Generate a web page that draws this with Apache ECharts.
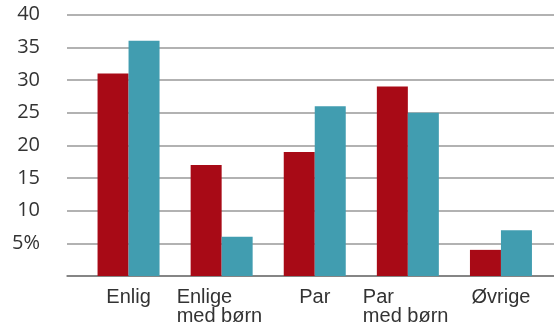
<!DOCTYPE html>
<html>
<head>
<meta charset="utf-8">
<script src="https://cdn.jsdelivr.net/npm/echarts@6/dist/echarts.min.js"></script>
<style>html,body{margin:0;padding:0;background:#fff}#c{width:554px;height:331px}</style>
</head>
<body>
<div id="c"></div>
<script>
var categories = ['Enlig', 'Enlige\nmed børn', 'Par', 'Par\nmed børn', 'Øvrige'];
var seriesRed = [31, 17, 19, 29, 4];
var seriesTeal = [36, 6, 26, 25, 7];
var yTicks = [0, 5, 10, 15, 20, 25, 30, 35, 40];

var chart = echarts.init(document.getElementById('c'), null, {renderer: 'canvas'});
var gridTop = 14.7, gridBottom = 331 - 276;
chart.setOption({
  animation: false,
  grid: [
    {left: 67, right: 0, top: gridTop, bottom: gridBottom},
    {left: 82, right: 6.5, top: gridTop, bottom: gridBottom}
  ],
  xAxis: [
    {gridIndex: 0, type: 'category', data: [''], axisLine: {show: true, lineStyle: {color: '#777', width: 1.5}},
     axisTick: {show: false}, axisLabel: {show: false}},
    {gridIndex: 1, type: 'category', data: categories, axisLine: {show: false}, axisTick: {show: false},
     axisLabel: {
       interval: 0, hideOverlap: false,
       margin: 12, color: '#333', fontFamily: 'Liberation Sans, Arial, sans-serif', fontSize: 20, lineHeight: 19,
       formatter: function (v) {
         if (v.indexOf('\n') < 0) return v;
         return v.split('\n').map(function (l) { return '{l|' + l + '}'; }).join('\n');
       },
       rich: {l: {width: 90, align: 'left', fontSize: 20, lineHeight: 19, color: '#333', fontFamily: 'Liberation Sans, Arial, sans-serif'}}
     }}
  ],
  yAxis: [
    {gridIndex: 0, type: 'value', min: yTicks[0], max: yTicks[yTicks.length - 1], interval: 5,
     axisLine: {show: false}, axisTick: {show: false},
     splitLine: {show: true, lineStyle: {color: '#999', width: 1.5}},
     axisLabel: {margin: 27, color: '#333', fontFamily: 'Open Sans, sans-serif', fontSize: 20,
       formatter: function (v) { return v === 0 ? '' : (v === 5 ? '5%' : String(v)); }}},
    {gridIndex: 1, type: 'value', min: yTicks[0], max: yTicks[yTicks.length - 1], interval: 5, show: false}
  ],
  series: [
    {type: 'bar', xAxisIndex: 1, yAxisIndex: 1, data: seriesRed, barWidth: 31, barGap: '0%', itemStyle: {color: '#a80a16'}},
    {type: 'bar', xAxisIndex: 1, yAxisIndex: 1, data: seriesTeal, barWidth: 31, barGap: '0%', itemStyle: {color: '#419db0'}}
  ]
});
</script>
</body>
</html>
